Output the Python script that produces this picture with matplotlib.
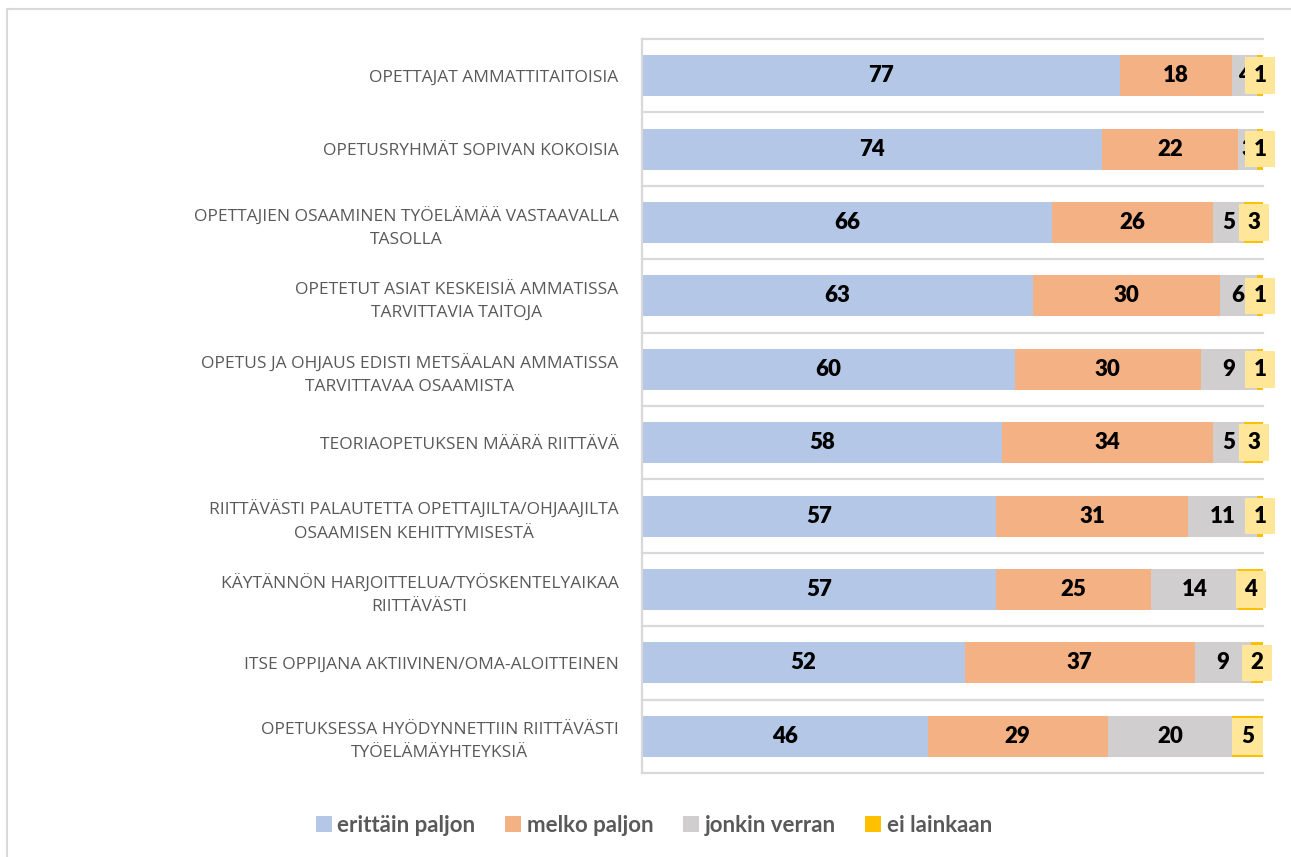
import matplotlib
matplotlib.use("Agg")
import matplotlib.pyplot as plt
from matplotlib.patches import Rectangle, Patch
from matplotlib.lines import Line2D

categories = [
    "OPETTAJAT AMMATTITAITOISIA",
    "OPETUSRYHMÄT SOPIVAN KOKOISIA",
    "OPETTAJIEN OSAAMINEN TYÖELÄMÄÄ VASTAAVALLA\nTASOLLA",
    "OPETETUT ASIAT KESKEISIÄ AMMATISSA\nTARVITTAVIA TAITOJA",
    "OPETUS JA OHJAUS EDISTI METSÄALAN AMMATISSA\nTARVITTAVAA OSAAMISTA",
    "TEORIAOPETUKSEN MÄÄRÄ RIITTÄVÄ",
    "RIITTÄVÄSTI PALAUTETTA OPETTAJILTA/OHJAAJILTA\nOSAAMISEN KEHITTYMISESTÄ",
    "KÄYTÄNNÖN HARJOITTELUA/TYÖSKENTELYAIKAA\nRIITTÄVÄSTI",
    "ITSE OPPIJANA AKTIIVINEN/OMA-ALOITTEINEN",
    "OPETUKSESSA HYÖDYNNETTIIN RIITTÄVÄSTI\nTYÖELÄMÄYHTEYKSIÄ",
]
series_names = ["erittäin paljon", "melko paljon", "jonkin verran", "ei lainkaan"]
erittain = [77, 74, 66, 63, 60, 58, 57, 57, 52, 46]
melko = [18, 22, 26, 30, 30, 34, 31, 25, 37, 29]
jonkin = [4, 3, 5, 6, 9, 5, 11, 14, 9, 20]
ei = [1, 1, 3, 1, 1, 3, 1, 4, 2, 5]

colors = ["#B4C7E7", "#F4B183", "#D0CECE", "#FFC000"]
box_color = "#FFE699"
text_gray = "#595959"
grid_gray = "#D9D9D9"

W, H = 1291, 857
fig = plt.figure(figsize=(W / 100, H / 100), dpi=100)

# figure border (top and left visible)
fig.add_artist(Line2D([7 / W, 7 / W], [0, 1 - 9 / H], color=grid_gray, lw=1.5, transform=fig.transFigure))
fig.add_artist(Line2D([7 / W, 1], [1 - 9 / H, 1 - 9 / H], color=grid_gray, lw=1.5, transform=fig.transFigure))

ax = fig.add_axes([642 / W, 1 - 773 / H, (1263 - 642) / W, (773 - 39) / H])
ax.set_xlim(0, 100)
n = len(categories)
ax.set_ylim(n - 0.5, -0.5)

ypos = list(range(n))
data = [erittain, melko, jonkin, ei]
left = [0] * n
bar_h = 0.56
lab_font = dict(fontsize=16, fontweight="heavy", family="Lato", color="black")
for si, vals in enumerate(data):
    ax.barh(ypos, vals, left=left, height=bar_h, color=colors[si], edgecolor="none", zorder=2)
    for i, v in enumerate(vals):
        cx = left[i] + v / 2
        if si < 3:
            ax.text(cx, i, str(v), ha="center", va="center", zorder=3, **lab_font)
        else:
            bw = 4.85
            bh = 0.50
            ax.add_patch(Rectangle((cx - bw / 2, i - bh / 2), bw, bh, facecolor=box_color,
                                   edgecolor="none", zorder=4, clip_on=False))
            ax.text(cx, i, str(v), ha="center", va="center", zorder=5, clip_on=False, **lab_font)
    left = [l + v for l, v in zip(left, vals)]

# category separators
for k in range(n + 1):
    ax.axhline(k - 0.5, color=grid_gray, lw=1.6, zorder=1, clip_on=False)

for s in ["top", "right", "bottom"]:
    ax.spines[s].set_visible(False)
ax.spines["left"].set_color(grid_gray)
ax.spines["left"].set_linewidth(1.6)
ax.set_xticks([])
ax.set_yticks(ypos)
ax.set_yticklabels(categories, family="Open Sans", fontsize=12.5, color=text_gray,
                   multialignment="center", linespacing=1.55)
ax.tick_params(axis="y", length=0, pad=17)

handles = [Patch(facecolor=c, edgecolor="none") for c in colors]
leg = fig.legend(handles, series_names, loc="center", bbox_to_anchor=(654 / W, 1 - 825 / H),
                 ncol=4, frameon=False, handlelength=0.7, handleheight=0.7,
                 handletextpad=0.25, columnspacing=1.35,
                 prop={"family": "Lato", "weight": "bold", "size": 16})
for t in leg.get_texts():
    t.set_color(text_gray)

fig.savefig("out.png", dpi=100)
